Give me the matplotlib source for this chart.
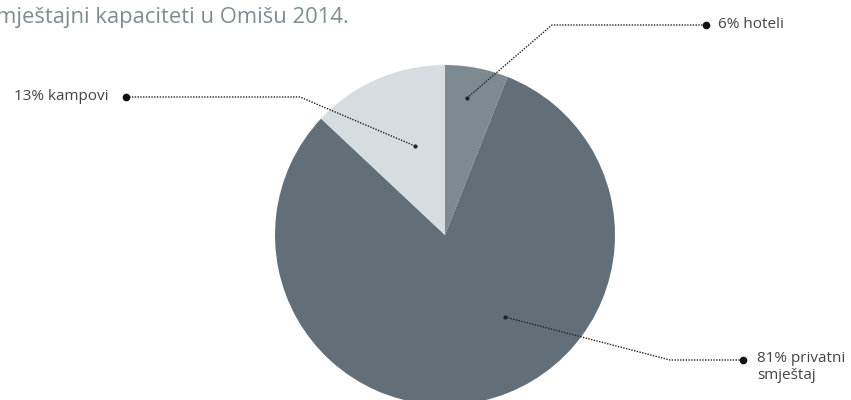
import matplotlib.pyplot as plt

plt.rcParams['font.family'] = ['Open Sans', 'DejaVu Sans']

labels = ['6% hoteli', '81% privatni\nsmještaj', '13% kampovi']
shares = [6, 81, 13]
colors = ['#7d8a91', '#636f78', '#d6dde0']
title = 'Smještajni kapaciteti u Omišu 2014.'

W, H = 851, 400
fig = plt.figure(figsize=(W / 100, H / 100), dpi=100)
ax = fig.add_axes([0, 0, 1, 1])

cx, cy, r = 445, H - 235, 170
ax.pie(shares, colors=colors, startangle=90, counterclock=False,
       center=(cx, cy), radius=r, wedgeprops=dict(linewidth=0))

# leader lines: inner point, elbow, outer dot (pixel coords, y down)
leaders = [
    [(467, 98), (552, 25), (706, 25)],
    [(505, 317), (670, 360), (743, 360)],
    [(415, 146), (300, 97), (126, 97)],
]
txt_pos = [(718, 25, 'left'), (757, 360, 'left'), (109, 97, 'right')]

for pts, (tx, ty, ha), lab in zip(leaders, txt_pos, labels):
    xs = [p[0] for p in pts]
    ys = [H - p[1] for p in pts]
    ax.plot(xs, ys, color='#222222', lw=1, ls=(0, (1, 1)))
    ax.plot(xs[-1], ys[-1], 'o', color='#111111', ms=4.5)
    ax.plot(xs[0], ys[0], 'o', color='#222222', ms=2)
    if '\n' in lab:
        ax.text(tx, H - ty + 9, lab, ha=ha, va='top', fontsize=11,
                color='#444444', linespacing=1.2)
    else:
        ax.text(tx, H - ty, lab, ha=ha, va='center', fontsize=11,
                color='#444444')

# title is cropped at the left edge in the original, S falls off the figure
ax.text(349, H - 17, title, ha='right', va='center', fontsize=15.8,
        color='#7f8c93')

ax.set_xlim(0, W)
ax.set_ylim(0, H)
ax.set_aspect('auto')
ax.axis('off')

fig.savefig('out.png', dpi=100)
